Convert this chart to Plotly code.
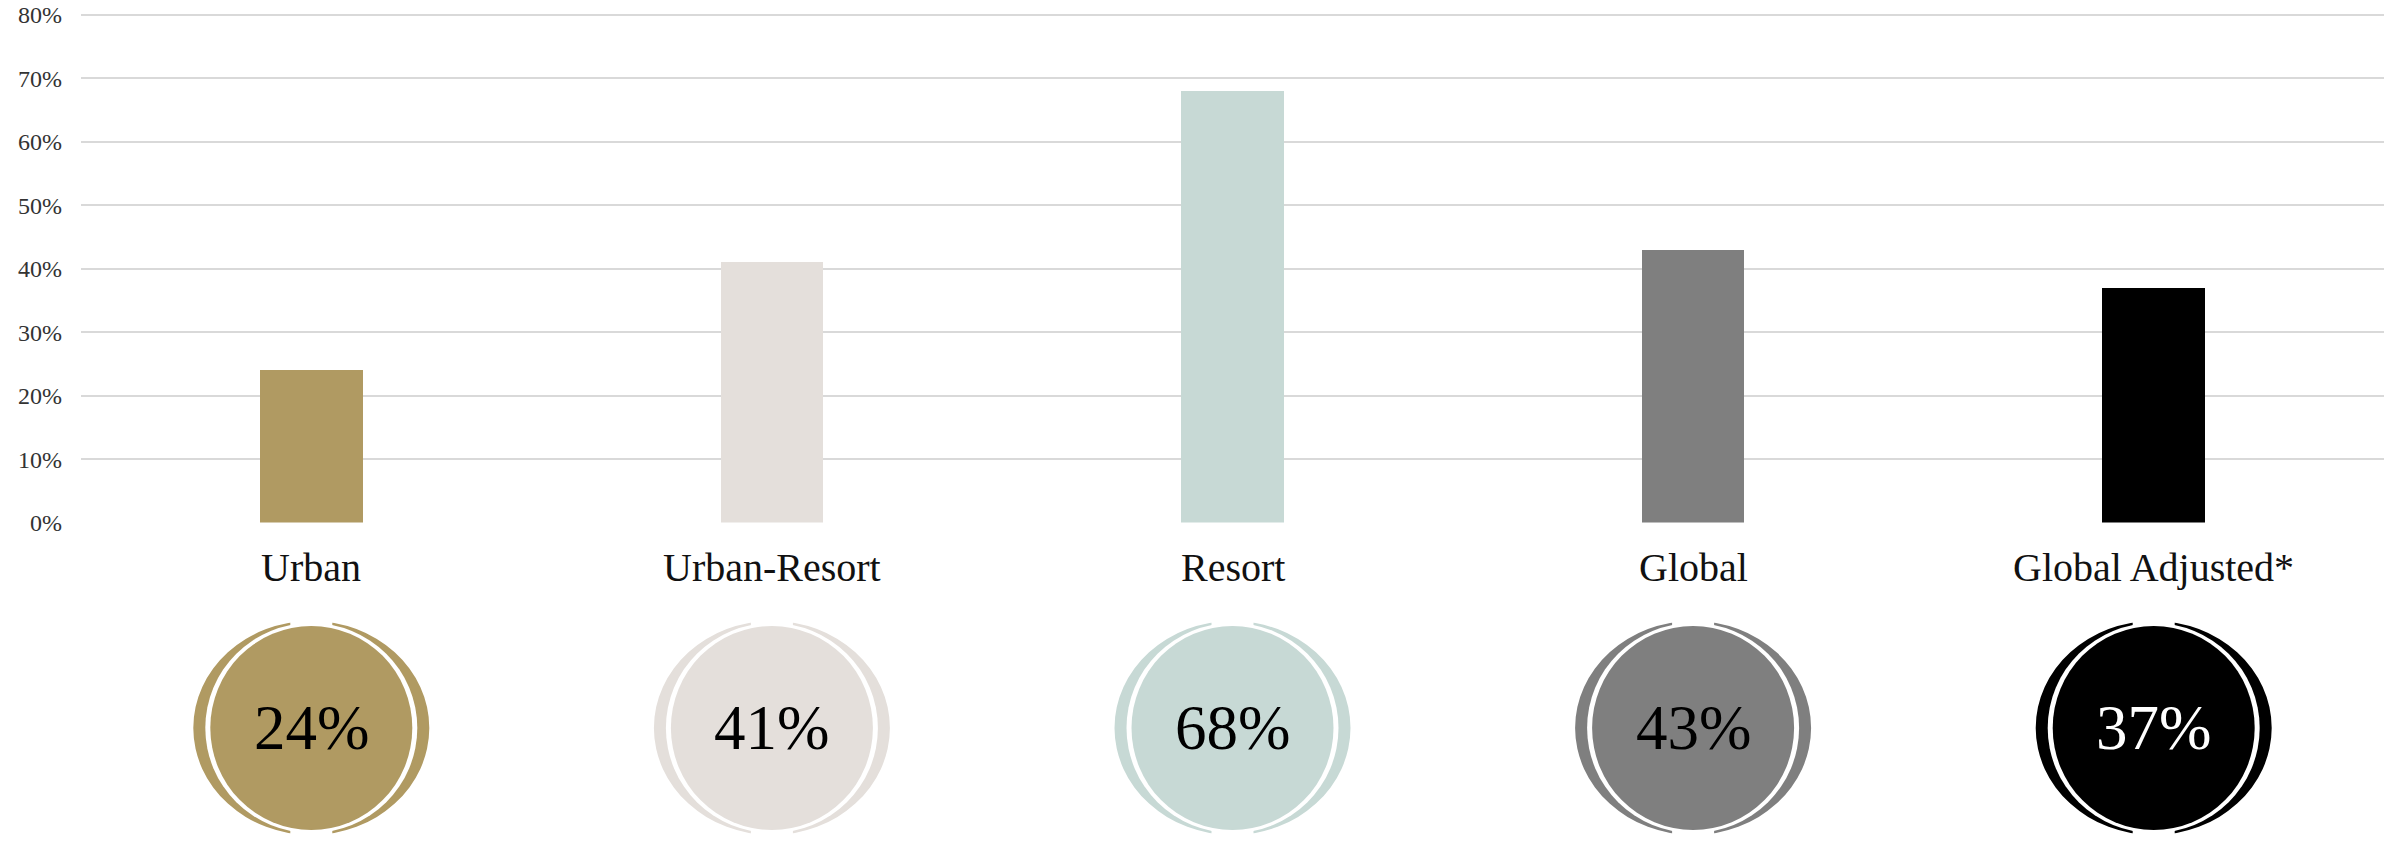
import plotly.graph_objects as go

# data
categories = ["Urban", "Urban-Resort", "Resort", "Global", "Global Adjusted*"]
shares = [0.24, 0.41, 0.68, 0.43, 0.37]
bar_colors = ["#B09A62", "#E4DFDB", "#C7D9D5", "#7F7F7F", "#000000"]
text_colors = ["#000000", "#000000", "#000000", "#000000", "#FFFFFF"]
y_ticks = [0, 0.1, 0.2, 0.3, 0.4, 0.5, 0.6, 0.7, 0.8]

# body margin is removed in the page (post_script below), figure fills the window
W, H = 2397, 843
Y_TOP_PX, Y_ZERO_PX = 15.3, 522.7   # screen rows of the 80% and 0% gridlines
PAD = 2                             # keep the 80% gridline off the plot edge
M_T, M_B, M_L, M_R = Y_TOP_PX - PAD, 0, 80.7, 13
plot_h = H - M_T - M_B
y_max = 0.8 + PAD * 0.8 / (Y_ZERO_PX - Y_TOP_PX)

def paper_y(px):
    # screen pixel row -> paper coordinate
    return (H - M_B - px) / plot_h

FONT = "Liberation Serif"

fig = go.Figure()
fig.add_trace(go.Bar(
    x=categories,
    y=shares,
    marker=dict(color=bar_colors, line=dict(width=0)),
    width=0.223,
    hoverinfo="x+y",
))

circle_y = paper_y(728)
label_y = paper_y(568)

shapes = []
annotations = []
for i, (cat, val) in enumerate(zip(categories, shares)):
    col = bar_colors[i]
    common = dict(xref="x", yref="paper", xsizemode="pixel", ysizemode="pixel",
                  xanchor=i, yanchor=circle_y, line=dict(width=0), layer="above")
    # outer crescent ring (ellipse)
    shapes.append(dict(type="circle", x0=-118, x1=118, y0=-107, y1=107,
                       fillcolor=col, **common))
    # white separation ring
    shapes.append(dict(type="circle", x0=-106, x1=106, y0=-105, y1=105,
                       fillcolor="white", **common))
    # gaps at top and bottom of the ring
    shapes.append(dict(type="rect", x0=-21, x1=21, y0=95, y1=112,
                       fillcolor="white", **common))
    shapes.append(dict(type="rect", x0=-21, x1=21, y0=-112, y1=-95,
                       fillcolor="white", **common))
    # filled disc
    shapes.append(dict(type="circle", x0=-101, x1=101, y0=-102, y1=102,
                       fillcolor=col, **common))

    annotations.append(dict(x=i, y=label_y, xref="x", yref="paper", text=cat,
                            showarrow=False, xanchor="center", yanchor="middle",
                            font=dict(family=FONT, size=40, color="#111111")))
    annotations.append(dict(x=i, y=circle_y, xref="x", yref="paper",
                            text=f"{round(val * 100)}%",
                            showarrow=False, xanchor="center", yanchor="middle",
                            font=dict(family=FONT, size=63, color=text_colors[i])))

fig.update_layout(
    width=W, height=H,
    margin=dict(t=M_T, b=M_B, l=M_L, r=M_R),
    plot_bgcolor="white", paper_bgcolor="white",
    showlegend=False,
    bargap=0,
    shapes=shapes,
    annotations=annotations,
    xaxis=dict(showticklabels=False, showgrid=False, zeroline=False,
               showline=False, range=[-0.5, 4.5], automargin=False),
    yaxis=dict(domain=[paper_y(Y_ZERO_PX), 1], range=[0, y_max], tickvals=y_ticks,
               tickformat=".0%", showgrid=True, gridcolor="#D9D9D9", gridwidth=2,
               zeroline=False, showline=False, ticklabelstandoff=18,
               automargin=False, ticklabeloverflow="allow",
               tickfont=dict(family=FONT, size=24, color="#333333")),
)

fig.write_html("out.html",
               config={"displayModeBar": False},
               post_script="document.body.style.margin = '0'; document.body.style.overflow = 'hidden';")
